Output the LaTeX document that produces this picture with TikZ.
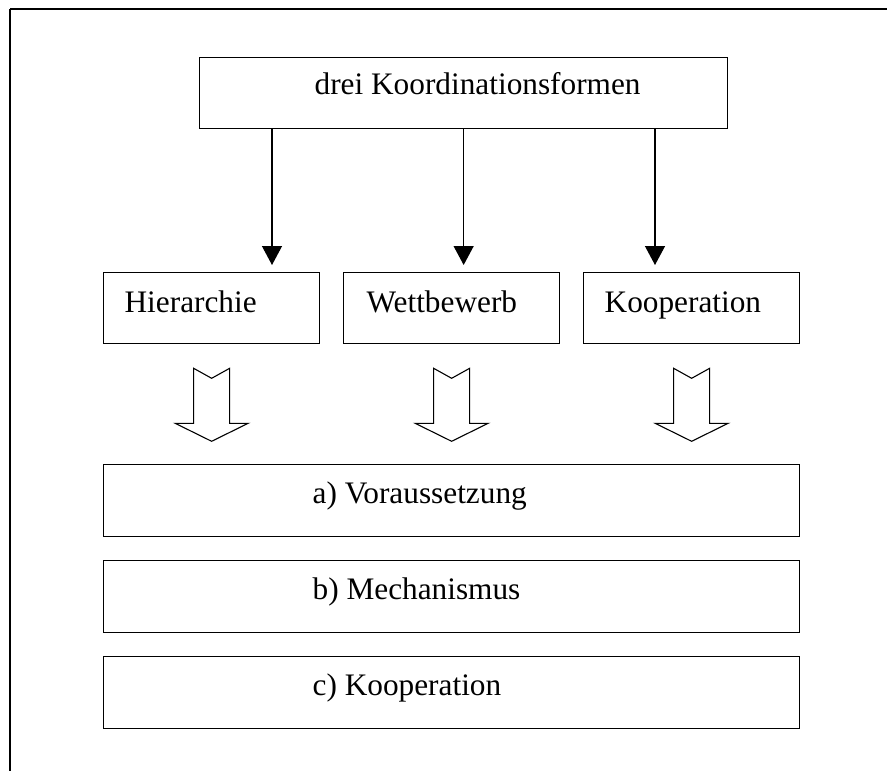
\documentclass[tikz,border=0pt]{standalone}
\usepackage{fontspec}
\setmainfont{Liberation Serif}
\usetikzlibrary{arrows.meta}
\tikzset{
  box/.style 2 args={draw, line width=1.3pt, inner sep=0pt, anchor=north west,
    font=\fontsize{31.3}{37}\selectfont,
    execute at begin node={\hbox to #2pt\bgroup\hspace*{#1pt}},
    execute at end node={\hfil\egroup}},
  thinarr/.style={line width=1.3pt, -{Triangle[width=20pt,length=19pt]}, shorten >=7pt},
  hollow/.style={draw, line width=1.1pt, fill=white, line join=miter},
  frame/.style={draw, line width=1.8pt}
}
\newcommand\blockarr[1]{%
  \draw[hollow] ([shift={(-18,24)}]#1.south) -- ([shift={(0,34)}]#1.south)
    -- ([shift={(18,24)}]#1.south) -- ([shift={(18,79)}]#1.south)
    -- ([shift={(36.5,79)}]#1.south) -- ([shift={(0,97)}]#1.south)
    -- ([shift={(-36.5,79)}]#1.south) -- ([shift={(-18,79)}]#1.south) -- cycle;}
\begin{document}
\begin{tikzpicture}[x=1pt, y=-1pt]
  \useasboundingbox (0,0) rectangle (887,771);
  \clip (0,0) rectangle (887,771);
  \fill[white] (0,0) rectangle (887,771);
  \draw[frame] (10,9) -- (900,9) (10,9) -- (10,800);

  \node[box={115}{528}, text height=37pt, text depth=34pt] (top) at (199,57) {drei Koordinationsformen};

  \node[box={21}{216}, text height=40pt, text depth=31pt] (hier) at (103,272) {Hierarchie};
  \node[box={23}{216}, text height=40pt, text depth=31pt] (wett) at (343,272) {Wettbewerb};
  \node[box={21}{216}, text height=40pt, text depth=31pt] (koop) at (583,272) {Kooperation};

  \node[box={209}{696}, text height=39pt, text depth=33pt] (va) at (103,464) {a) Voraussetzung};
  \node[box={209}{696}, text height=39pt, text depth=33pt] (vb) at (103,560) {b) Mechanismus};
  \node[box={209}{696}, text height=39pt, text depth=33pt] (vc) at (103,656) {c) Kooperation};

  \draw[thinarr] ([xshift=73pt]top.south west) -- ([xshift=73pt]top.south west |- hier.north);
  \draw[thinarr] (top.south) -- (top.south |- wett.north);
  \draw[thinarr] ([xshift=456pt]top.south west) -- ([xshift=456pt]top.south west |- koop.north);

  \blockarr{hier}
  \blockarr{wett}
  \blockarr{koop}
\end{tikzpicture}
\end{document}
